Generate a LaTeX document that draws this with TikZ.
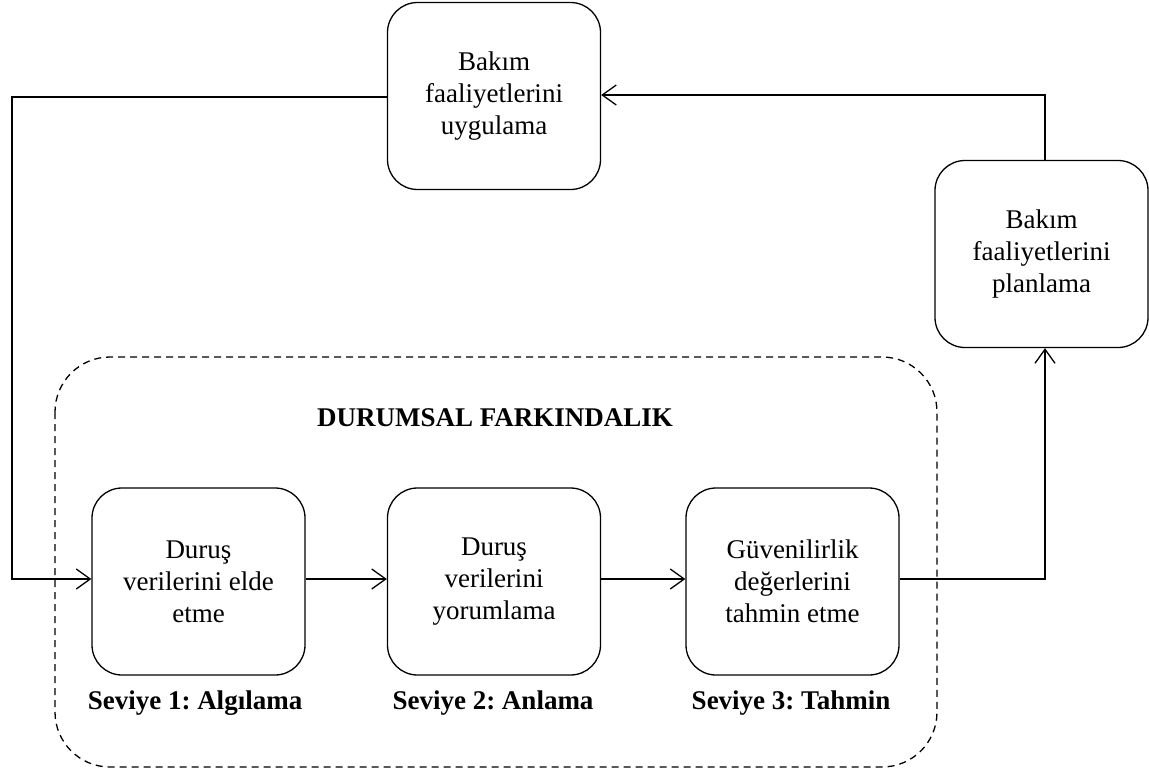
\documentclass[tikz,border=0pt]{standalone}
\usepackage{fontspec}
\setmainfont{Liberation Serif}
\usetikzlibrary{arrows.meta}
\frenchspacing
\begin{document}
\begin{tikzpicture}[x=1pt,y=-1pt,
  stepbox/.style={draw, line width=1.3pt, rounded corners=30pt,
    minimum width=213pt, minimum height=187pt, align=center,
    inner sep=0pt, font=\fontsize{27}{32}\selectfont},
  levellabel/.style={font=\fontsize{27}{32}\selectfont\bfseries},
  flow/.style={line width=1.3pt, -{Straight Barb[length=14pt,width=20pt,line width=1.3pt]}}
]
\useasboundingbox (0,0) rectangle (1149,771);

% dashed frame around the three awareness levels
\draw[line width=1.3pt, dash pattern=on 7pt off 5pt, rounded corners=55pt]
  (55,357) rectangle (937,767);
\node[levellabel] (title) at (495,418) {DURUMSAL FARKINDALIK};

% process steps
\node[stepbox] (apply) at (494,96) {Bakım\\faaliyetlerini\\uygulama};
\node[stepbox] (plan) at (1041.5,254) {Bakım\\faaliyetlerini\\planlama};
\node[stepbox] (s1) at (198.5,581.5) {Duruş\\verilerini elde\\etme};
\node[stepbox] (s2) at (494,581.5) {Duruş\\verilerini\\yorumlama};
\node[stepbox] (s3) at (792.5,581.5) {Güvenilirlik\\değerlerini\\tahmin etme};

% level captions
\node[levellabel] (l1) at (195,703) {Seviye 1: Algılama};
\node[levellabel] (l2) at (493,703) {Seviye 2: Anlama};
\node[levellabel] (l3) at (791,703) {Seviye 3: Tahmin};

% connectors
\coordinate (ltop) at (12,97);
\coordinate (lbot) at (12,579);
\coordinate (rbot) at (1045,579);
\coordinate (rtop) at (1045,95);
\draw[flow] (apply.west |- ltop) -- (ltop) -- (lbot) -- (s1.west |- lbot);
\draw[flow] (s1.east |- lbot) -- (s2.west |- lbot);
\draw[flow] (s2.east |- lbot) -- (s3.west |- lbot);
\draw[flow] (s3.east |- rbot) -- (rbot) -- (rbot |- plan.south);
\draw[flow] (rtop |- plan.north) -- (rtop) -- (apply.east |- rtop);
\end{tikzpicture}
\end{document}
